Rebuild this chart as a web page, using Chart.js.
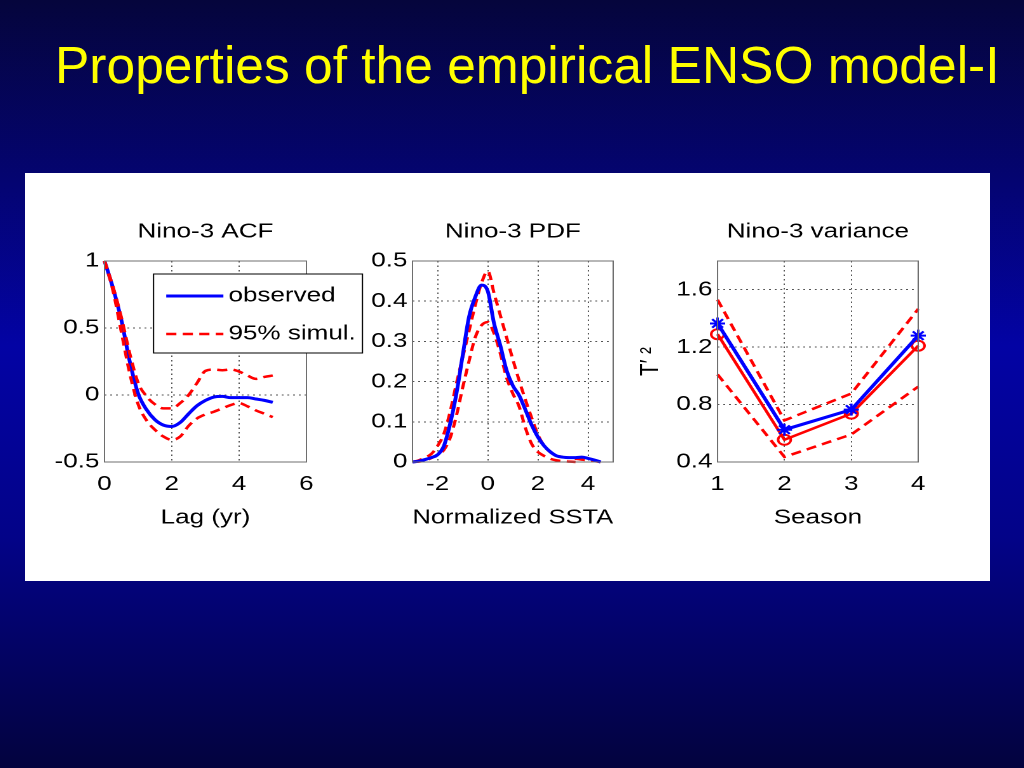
<!DOCTYPE html>
<html>
<head>
<meta charset="utf-8">
<title>Properties of the empirical ENSO model-I</title>
<script src="https://cdn.jsdelivr.net/npm/chart.js@4.4.1/dist/chart.umd.min.js"></script>
<style>
    html, body { margin: 0; padding: 0; }
    body {
        width: 1024px; height: 768px; overflow: hidden; position: relative;
        background: linear-gradient(to bottom, #05053c 0%, #040472 24%, #0303a4 45%, #030388 70%, #03033e 100%);
        font-family: 'Liberation Sans', Arial, sans-serif;
    }
    .slide-title {
        position: absolute; left: 55px; top: 40px;
        font-size: 51.5px; line-height: 51px; color: #ffff00; white-space: nowrap;
    }
    .figure { position: absolute; left: 25px; top: 173px; width: 965px; height: 408px; background: #fff; }
    /* the figure was pasted into the slide stretched sideways, so each panel is too */
    .panel { position: absolute; top: 200px; height: 330px; transform-origin: 0 0; transform: scaleX(1.27); }
    #panel-acf { left: 40.5px; width: 259px; }
    #panel-pdf { left: 348.5px; width: 224px; }
    #panel-var { left: 635.4px; width: 239px; }
</style>
</head>
<body>
<div class="slide-title">Properties of the empirical ENSO model-I</div>
<div class="figure"></div>
<div class="panel" id="panel-acf"><canvas id="acfChart"></canvas></div>
<div class="panel" id="panel-pdf"><canvas id="pdfChart"></canvas></div>
<div class="panel" id="panel-var"><canvas id="varChart"></canvas></div>

<script>
// Nino-3 ACF
const acfLag = [0, 0.25, 0.5, 0.75, 1, 1.25, 1.5, 1.75, 2, 2.25, 2.5, 2.75, 3, 3.25, 3.5, 3.75, 4, 4.25, 4.5, 4.75, 5];
const acfObserved = [1, 0.80, 0.56, 0.25, 0.01, -0.11, -0.185, -0.225, -0.235, -0.205, -0.14, -0.08, -0.04, -0.015, -0.01, -0.02, -0.02, -0.02, -0.03, -0.04, -0.055];
const acfSimUpper = [1, 0.81, 0.58, 0.31, 0.09, -0.01, -0.07, -0.1, -0.1, -0.06, 0.0, 0.09, 0.18, 0.19, 0.185, 0.19, 0.175, 0.145, 0.12, 0.135, 0.145];
const acfSimLower = [1, 0.78, 0.47, 0.16, -0.07, -0.19, -0.26, -0.31, -0.335, -0.31, -0.23, -0.175, -0.145, -0.125, -0.1, -0.075, -0.06, -0.085, -0.115, -0.14, -0.165];
const acfLagTicks = [0, 2, 4, 6];
const acfTicks = [-0.5, 0, 0.5, 1];

// Nino-3 PDF
const pdfSsta = [-3, -2.75, -2.5, -2.25, -2, -1.75, -1.5, -1.25, -1, -0.75, -0.5, -0.25, 0, 0.25, 0.5, 0.75, 1, 1.25, 1.5, 1.75, 2, 2.25, 2.5, 2.75, 3, 3.25, 3.5, 3.75, 4, 4.25, 4.5];
const pdfObserved = [0, 0.002, 0.006, 0.011, 0.018, 0.04, 0.095, 0.17, 0.265, 0.36, 0.41, 0.44, 0.425, 0.345, 0.29, 0.228, 0.19, 0.166, 0.13, 0.092, 0.062, 0.04, 0.025, 0.015, 0.012, 0.011, 0.011, 0.012, 0.009, 0.005, 0];
const pdfSimUpper = [0, 0.004, 0.011, 0.02, 0.04, 0.07, 0.125, 0.195, 0.26, 0.325, 0.39, 0.445, 0.475, 0.42, 0.365, 0.31, 0.255, 0.203, 0.155, 0.11, 0.068, 0.04, 0.024, 0.016, 0.012, 0.01, 0.008, 0.006, 0.004, 0.002, 0];
const pdfSimLower = [0, 0.001, 0.004, 0.01, 0.018, 0.03, 0.06, 0.115, 0.185, 0.25, 0.31, 0.34, 0.348, 0.32, 0.27, 0.21, 0.17, 0.138, 0.085, 0.045, 0.025, 0.015, 0.008, 0.004, 0.002, 0.001, 0, null, null, null, null];
const pdfSstaTicks = [-2, 0, 2, 4];
const pdfTicks = [0, 0.1, 0.2, 0.3, 0.4, 0.5];

// Nino-3 variance
const seasons = [1, 2, 3, 4];
const varObserved = [1.365, 0.625, 0.765, 1.28];
const varModel = [1.29, 0.555, 0.737, 1.21];
const varSimUpper = [1.53, 0.69, 0.877, 1.466];
const varSimLower = [1.01, 0.435, 0.592, 0.925];
const seasonTicks = [1, 2, 3, 4];
const varTicks = [0.4, 0.8, 1.2, 1.6];

const FONT = "'Liberation Sans', Arial, sans-serif";
const TEXT_SIZE = 20.5;
const BLUE = '#0000ff';
const RED = '#ff0000';

Chart.defaults.font.family = FONT;
Chart.defaults.color = '#000';

function points(xs, ys) {
    return xs.map((x, i) => ({ x: x, y: ys[i] }));
}

function solidLine(xs, ys, color) {
    return {
        data: points(xs, ys), borderColor: color, backgroundColor: color,
        borderWidth: 3, pointRadius: 0, fill: false, clip: false,
        cubicInterpolationMode: 'monotone'
    };
}

function dashedLine(xs, ys) {
    return {
        data: points(xs, ys), borderColor: RED, backgroundColor: RED,
        borderWidth: 2.5, borderDash: [8, 5], pointRadius: 0, fill: false, clip: false,
        cubicInterpolationMode: 'monotone'
    };
}

// Box round the plot area, like a MATLAB axes frame
const frameBox = {
    id: 'frameBox',
    afterDatasetsDraw(chart) {
        const a = chart.chartArea;
        const ctx = chart.ctx;
        ctx.save();
        ctx.setLineDash([]);
        ctx.strokeStyle = '#6e6e6e';
        ctx.lineWidth = 1;
        ctx.strokeRect(a.left, a.top, a.right - a.left, a.bottom - a.top);
        ctx.restore();
    }
};

// Legend box of the ACF panel, overlapping the right frame edge
const acfLegend = {
    id: 'acfLegend',
    afterDraw(chart) {
        const a = chart.chartArea;
        const ctx = chart.ctx;
        const left = a.left + 38.6, top = a.top + 13, w = 164.5, h = 79;
        ctx.save();
        ctx.fillStyle = '#fff';
        ctx.fillRect(left, top, w, h);
        ctx.strokeStyle = '#000';
        ctx.lineWidth = 1;
        ctx.strokeRect(left, top, w, h);

        const rows = [
            { label: 'observed', color: BLUE, width: 3, dash: [] },
            { label: '95% simul.', color: RED, width: 2.5, dash: [8, 5] }
        ];
        rows.forEach((row, i) => {
            const y = top + 22 + i * 38;
            ctx.beginPath();
            ctx.setLineDash(row.dash);
            ctx.strokeStyle = row.color;
            ctx.lineWidth = row.width;
            ctx.moveTo(left + 10, y);
            ctx.lineTo(left + 55, y);
            ctx.stroke();
            ctx.setLineDash([]);
            ctx.fillStyle = '#000';
            ctx.font = TEXT_SIZE + 'px ' + FONT;
            ctx.textBaseline = 'middle';
            ctx.textAlign = 'left';
            ctx.fillText(row.label, left + 59, y);
        });
        ctx.restore();
    }
};

function scaleOptions(min, max, ticks, fitSize, horizontal, titleText) {
    const opts = {
        type: 'linear',
        min: min,
        max: max,
        afterBuildTicks: scale => { scale.ticks = ticks.map(v => ({ value: v })); },
        afterFit: scale => {
            if (horizontal) scale.height = fitSize; else scale.width = fitSize;
        },
        ticks: {
            font: { size: TEXT_SIZE },
            color: '#000',
            padding: horizontal ? 10 : 4,
            maxRotation: 0,
            autoSkip: false,
            callback: v => String(v)
        },
        grid: { color: '#555', lineWidth: 1, drawTicks: false },
        border: { display: false, dash: [1.5, 3] },
        title: { display: false }
    };
    if (titleText) {
        opts.title = { display: true, text: titleText, font: { size: TEXT_SIZE }, color: '#000', padding: 0 };
    }
    return opts;
}

function makePanel(canvasId, datasets, x, y, titleText, rightPad, plugins) {
    return new Chart(document.getElementById(canvasId), {
        type: 'line',
        data: { datasets: datasets },
        options: {
            responsive: true,
            maintainAspectRatio: false,
            devicePixelRatio: 2,
            animation: false,
            events: [],
            layout: { padding: { left: 0, top: 0, right: rightPad, bottom: 0 } },
            plugins: {
                legend: { display: false },
                tooltip: { enabled: false },
                title: {
                    display: true, text: titleText, fullSize: false, color: '#000',
                    font: { size: TEXT_SIZE, weight: 'normal' },
                    padding: { top: 19.4, bottom: 17 }
                }
            },
            scales: { x: x, y: y }
        },
        plugins: [frameBox].concat(plugins || [])
    });
}

// Panel 1: autocorrelation
const acfObs = solidLine(acfLag, acfObserved, BLUE);
acfObs.order = 1;
const acfUp = dashedLine(acfLag, acfSimUpper);
const acfLow = dashedLine(acfLag, acfSimLower);
makePanel('acfChart', [acfObs, acfUp, acfLow],
    scaleOptions(0, 6, acfLagTicks, 68, true, 'Lag (yr)'),
    scaleOptions(-0.5, 1, acfTicks, 50, false),
    'Nino-3 ACF', 50, [acfLegend]);

// Panel 2: probability density
makePanel('pdfChart', [
        solidLine(pdfSsta, pdfObserved, BLUE),
        dashedLine(pdfSsta, pdfSimUpper),
        dashedLine(pdfSsta, pdfSimLower)
    ],
    scaleOptions(-3, 5, pdfSstaTicks, 68, true, 'Normalized SSTA'),
    scaleOptions(0, 0.5, pdfTicks, 50, false),
    'Nino-3 PDF', 16);

// Panel 3: seasonal variance
const varObs = solidLine(seasons, varObserved, BLUE);
Object.assign(varObs, { tension: 0, cubicInterpolationMode: 'default', pointStyle: 'star', pointRadius: 6, pointBorderWidth: 2, pointBorderColor: BLUE });
const varMod = solidLine(seasons, varModel, RED);
Object.assign(varMod, { borderWidth: 2.5, tension: 0, cubicInterpolationMode: 'default', pointStyle: 'circle', pointRadius: 5, pointBorderWidth: 2, pointBorderColor: RED, pointBackgroundColor: 'rgba(0,0,0,0)' });
const varUp = dashedLine(seasons, varSimUpper);
const varLow = dashedLine(seasons, varSimLower);
[varUp, varLow].forEach(d => { d.tension = 0; d.cubicInterpolationMode = 'default'; });
makePanel('varChart', [varObs, varMod, varUp, varLow],
    scaleOptions(1, 4, seasonTicks, 68, true, 'Season'),
    scaleOptions(0.4, 1.8, varTicks, 65, false, 'T\u2032 \u00B2'),
    'Nino-3 variance', 16);
</script>
</body>
</html>
